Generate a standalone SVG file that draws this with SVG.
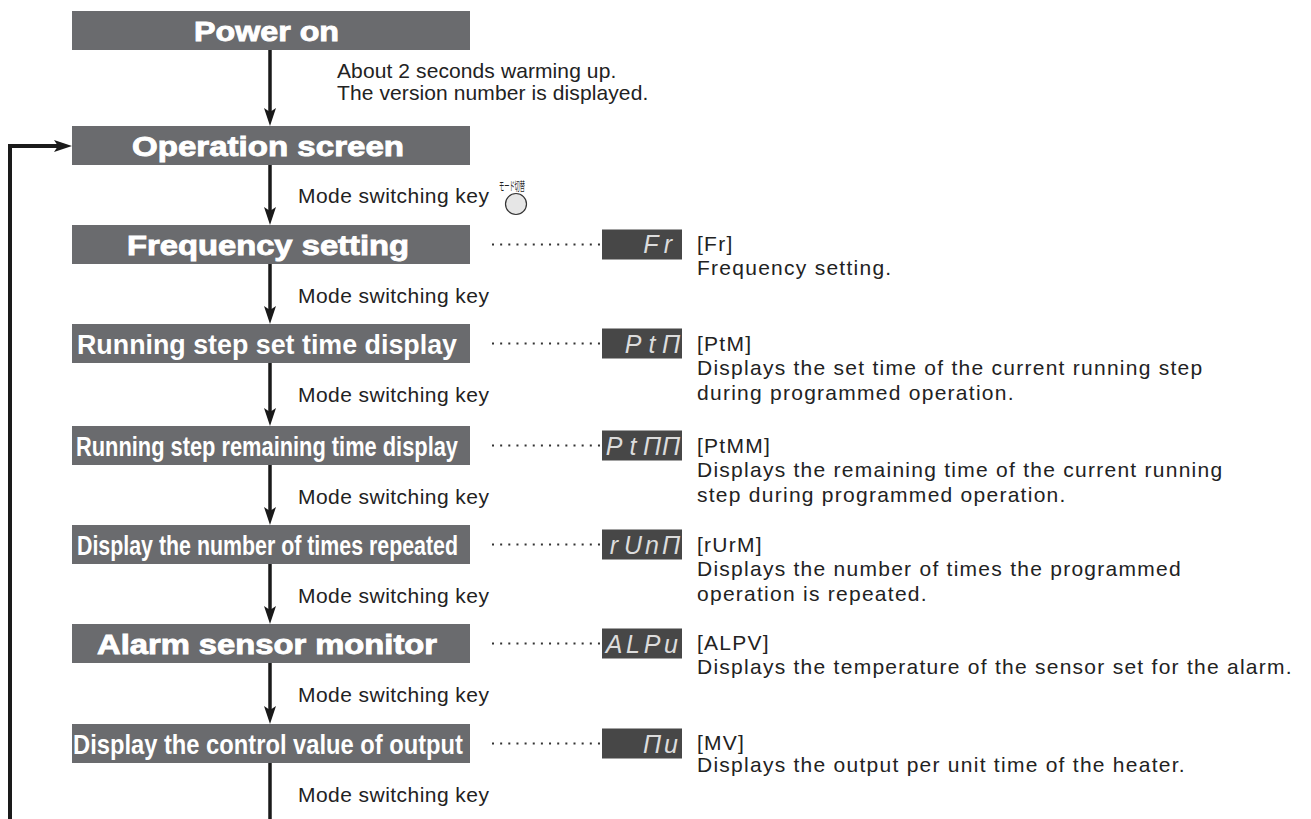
<svg xmlns="http://www.w3.org/2000/svg" width="1311" height="819" viewBox="0 0 1311 819">
<defs>
<style>
.box{fill:#6a6b6e}
.ttl{font-family:"Liberation Sans",Arial,sans-serif;font-weight:bold;fill:#fff;font-size:28px}
.ttlw{stroke:#fff;stroke-width:0.9px}
.ttlc{font-size:27px}
.lbl{font-family:"Liberation Sans",Arial,sans-serif;font-size:21px;fill:#222;letter-spacing:0.45px}
.note{font-family:"Liberation Sans",Arial,sans-serif;font-size:21px;fill:#222;letter-spacing:0.1px}
.desc{font-family:"Liberation Sans",Arial,sans-serif;font-size:21px;fill:#222;letter-spacing:1.26px}
.seg{fill:#474747}
.segt{font-family:"Liberation Sans",Arial,sans-serif;font-style:italic;font-size:25px;fill:#dcdcdc;text-anchor:middle}
.lead{stroke:#333;stroke-width:2;stroke-dasharray:2 6.15;fill:none}
.flow{stroke:#1a1a1a;stroke-width:3.5;fill:none}
.loop{stroke:#1a1a1a;stroke-width:4;fill:none;stroke-linejoin:miter}
.jp{font-family:"Noto Sans CJK JP",sans-serif;font-size:12px;fill:#222}
</style>
<marker id="ah" markerUnits="userSpaceOnUse" viewBox="0 0 18 12" refX="10" refY="6" markerWidth="18" markerHeight="12" orient="auto"><path d="M0,0 L18,6 L0,12 L4,6 Z" fill="#1a1a1a"/></marker>
</defs>

<g id="connectors">
<line class="flow" x1="270" y1="50" x2="270" y2="118" marker-end="url(#ah)"/>
<line class="flow" x1="270" y1="165" x2="270" y2="217" marker-end="url(#ah)"/>
<line class="flow" x1="270" y1="264" x2="270" y2="316" marker-end="url(#ah)"/>
<line class="flow" x1="270" y1="363" x2="270" y2="418" marker-end="url(#ah)"/>
<line class="flow" x1="270" y1="465" x2="270" y2="517" marker-end="url(#ah)"/>
<line class="flow" x1="270" y1="564" x2="270" y2="616" marker-end="url(#ah)"/>
<line class="flow" x1="270" y1="663" x2="270" y2="716" marker-end="url(#ah)"/>
<line class="flow" x1="270" y1="763" x2="270" y2="819"/>
<path class="loop" d="M10,819 V146 H64" marker-end="url(#ah)"/>
<line class="lead" x1="492" y1="244.5" x2="600" y2="244.5"/>
<line class="lead" x1="492" y1="343.5" x2="600" y2="343.5"/>
<line class="lead" x1="492" y1="445.5" x2="600" y2="445.5"/>
<line class="lead" x1="492" y1="544.5" x2="600" y2="544.5"/>
<line class="lead" x1="492" y1="643.5" x2="600" y2="643.5"/>
<line class="lead" x1="492" y1="743.5" x2="600" y2="743.5"/>
</g>

<g id="labels">
<text class="note" x="337" y="78">About 2 seconds warming up.</text>
<text class="note" x="337" y="100">The version number is displayed.</text>
<text class="lbl" x="298" y="203">Mode switching key</text>
<text class="jp" x="499" y="191" textLength="26" lengthAdjust="spacingAndGlyphs">モード切替</text>
<circle cx="516" cy="204" r="10.5" fill="#e6e6e6" stroke="#333" stroke-width="1.2"/>
<text class="lbl" x="298" y="303">Mode switching key</text>
<text class="lbl" x="298" y="402">Mode switching key</text>
<text class="lbl" x="298" y="504">Mode switching key</text>
<text class="lbl" x="298" y="603">Mode switching key</text>
<text class="lbl" x="298" y="702">Mode switching key</text>
<text class="lbl" x="298" y="802">Mode switching key</text>
</g>

<g id="power-on">
<rect class="box" x="72" y="11" width="398" height="39"/>
<text class="ttl ttlw" x="194" y="41" textLength="145" lengthAdjust="spacingAndGlyphs">Power on</text>
</g>

<g id="operation-screen">
<rect class="box" x="72" y="126" width="398" height="39"/>
<text class="ttl ttlw" x="132" y="156" textLength="272" lengthAdjust="spacingAndGlyphs">Operation screen</text>
</g>

<g id="frequency-setting">
<rect class="box" x="72" y="225" width="398" height="39"/>
<text class="ttl ttlw" x="127" y="255" textLength="282" lengthAdjust="spacingAndGlyphs">Frequency setting</text>
<rect class="seg" x="602" y="229.5" width="80" height="30"/>
<text class="segt" y="253"><tspan x="651">F</tspan><tspan x="668">r</tspan></text>
<text class="desc" x="697" y="251">[Fr]</text>
<text class="desc" x="697" y="275">Frequency setting.</text>
</g>

<g id="running-step-set-time">
<rect class="box" x="72" y="324" width="398" height="39"/>
<text class="ttl ttlc" x="77" y="354" textLength="380" lengthAdjust="spacingAndGlyphs">Running step set time display</text>
<rect class="seg" x="602" y="328.5" width="80" height="30"/>
<text class="segt" y="353"><tspan x="633">P</tspan><tspan x="652">t</tspan><tspan x="671">Π</tspan></text>
<text class="desc" x="697" y="351">[PtM]</text>
<text class="desc" x="697" y="375">Displays the set time of the current running step</text>
<text class="desc" x="697" y="400">during programmed operation.</text>
</g>

<g id="running-step-remaining-time">
<rect class="box" x="72" y="426" width="398" height="39"/>
<text class="ttl ttlc" x="76" y="456" textLength="382" lengthAdjust="spacingAndGlyphs">Running step remaining time display</text>
<rect class="seg" x="602" y="430.5" width="80" height="30"/>
<text class="segt" y="455"><tspan x="614">P</tspan><tspan x="633">t</tspan><tspan x="652">Π</tspan><tspan x="671">Π</tspan></text>
<text class="desc" x="697" y="453">[PtMM]</text>
<text class="desc" x="697" y="477">Displays the remaining time of the current running</text>
<text class="desc" x="697" y="502">step during programmed operation.</text>
</g>

<g id="number-of-times-repeated">
<rect class="box" x="72" y="525" width="398" height="39"/>
<text class="ttl ttlc" x="77" y="555" textLength="381" lengthAdjust="spacingAndGlyphs">Display the number of times repeated</text>
<rect class="seg" x="602" y="529.5" width="80" height="30"/>
<text class="segt" y="554"><tspan x="614">r</tspan><tspan x="633">U</tspan><tspan x="652">n</tspan><tspan x="671">Π</tspan></text>
<text class="desc" x="697" y="552">[rUrM]</text>
<text class="desc" x="697" y="576">Displays the number of times the programmed</text>
<text class="desc" x="697" y="601">operation is repeated.</text>
</g>

<g id="alarm-sensor-monitor">
<rect class="box" x="72" y="624" width="398" height="39"/>
<text class="ttl ttlw" x="97" y="654" textLength="340" lengthAdjust="spacingAndGlyphs">Alarm sensor monitor</text>
<rect class="seg" x="602" y="628.5" width="80" height="30"/>
<text class="segt" y="653"><tspan x="614">A</tspan><tspan x="633">L</tspan><tspan x="652">P</tspan><tspan x="671">u</tspan></text>
<text class="desc" x="697" y="650">[ALPV]</text>
<text class="desc" x="697" y="674">Displays the temperature of the sensor set for the alarm.</text>
</g>

<g id="control-value-of-output">
<rect class="box" x="72" y="724" width="398" height="39"/>
<text class="ttl ttlc" x="73" y="754" textLength="390" lengthAdjust="spacingAndGlyphs">Display the control value of output</text>
<rect class="seg" x="602" y="728.5" width="80" height="30"/>
<text class="segt" y="753"><tspan x="652">Π</tspan><tspan x="671">u</tspan></text>
<text class="desc" x="697" y="750">[MV]</text>
<text class="desc" x="697" y="772">Displays the output per unit time of the heater.</text>
</g>
</svg>
